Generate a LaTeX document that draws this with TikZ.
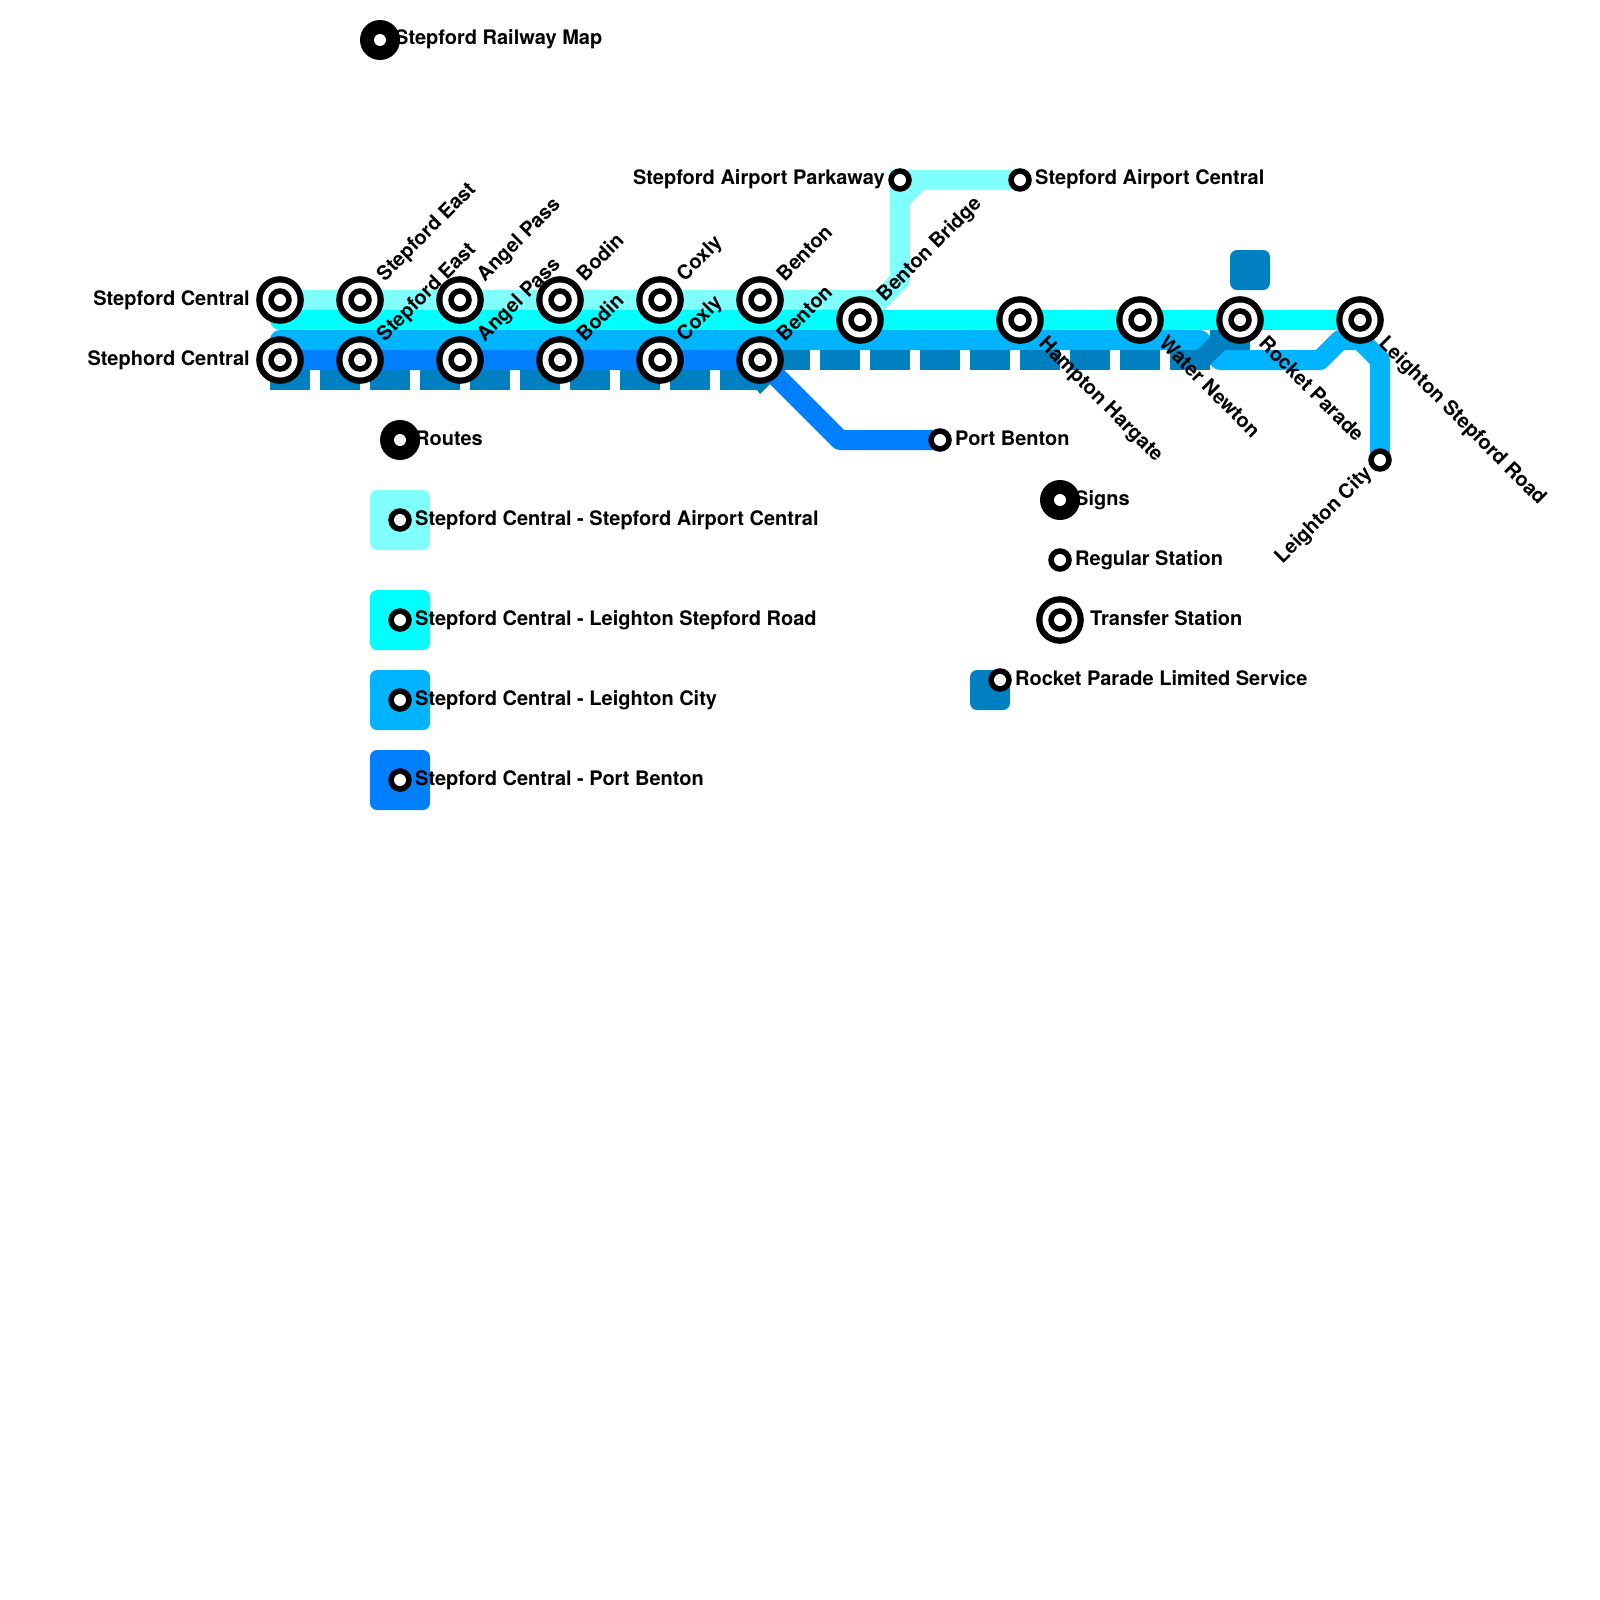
\documentclass[tikz,border=0pt]{standalone}
\usepackage{fontspec}
\setmainfont{TeX Gyre Heros}
\definecolor{lAirport}{HTML}{80FFFF}
\definecolor{lCyan}{HTML}{00FFFF}
\definecolor{lSky}{HTML}{00B4FF}
\definecolor{lBlue}{HTML}{0080FF}
\definecolor{lDark}{HTML}{0080C0}
\tikzset{
  route/.style={line width=20pt,line cap=round,line join=round},
  legendbox/.style={rounded corners=7pt},
  lab/.style={font=\fontsize{20}{24}\selectfont\bfseries,inner sep=0pt,text=black},
}
\newcommand{\transfer}[2]{%
  \fill[black] (#2) circle (23.8);
  \fill[white] (#2) circle (17.5);
  \fill[black] (#2) circle (11.8);
  \fill[white] (#2) circle (6);
  \coordinate (#1) at (#2);}
\newcommand{\regular}[2]{%
  \fill[black] (#2) circle (11.8);
  \fill[white] (#2) circle (6);
  \coordinate (#1) at (#2);}
\newcommand{\bigsign}[2]{%
  \fill[black] (#2) circle (20);
  \fill[white] (#2) circle (6);
  \coordinate (#1) at (#2);}
\newcommand{\lup}[3]{\node[lab,anchor=base west,rotate=45] (t#1) at ([shift={(24.75,-17.68)}]#2) {#3};}
\newcommand{\ldown}[3]{\node[lab,anchor=base west,rotate=-45] (t#1) at ([shift={(17.68,24.75)}]#2) {#3};}
\newcommand{\lright}[4]{\node[lab,anchor=base west] (t#1) at ([shift={(#4,5)}]#2) {#3};}
\newcommand{\lleft}[4]{\node[lab,anchor=base east] (t#1) at ([shift={(-#4,5)}]#2) {#3};}
\begin{document}
\begin{tikzpicture}[x=1pt,y=-1pt]
\useasboundingbox (0,0) rectangle (1600,1600);
% routes
\draw[route,lAirport] (280,300) -- (880,300) -- (900,280) -- (900,200) -- (920,180) -- (1020,180);
\fill[lAirport] (890,170) -- (925,170) -- (925,190) -- (922,190) -- (910,202) -- (910,205) -- (890,205) -- cycle;
\draw[route,lCyan] (280,320) -- (1360,320);
\draw[route,lSky] (280,340) -- (1200,340) -- (1220,360) -- (1320,360) -- (1340,340) -- (1360,340) -- (1380,360) -- (1380,460);
% limited service
\foreach \i in {0,...,9}{
  \fill[lDark] ({270+50*\i},370) rectangle ({310+50*\i},390);
}
\fill[lDark] (750,390) -- (757,390) -- (760,394) -- (775,379) -- (760,375) -- cycle;
\foreach \i in {0,...,8}{
  \fill[lDark] ({770+50*\i},350) rectangle ({810+50*\i},370);
}
\fill[lDark] (1210,330) -- (1250,330) -- (1250,350) -- (1225,350) -- (1205,370) -- (1197,350) -- (1210,337) -- cycle;
\fill[lDark,legendbox] (1230,250) rectangle (1270,290);
\draw[route,lBlue] (280,360) -- (760,360) -- (840,440) -- (940,440);
% legend boxes
\fill[lAirport,legendbox] (370,490) rectangle (430,550);
\fill[lCyan,legendbox] (370,590) rectangle (430,650);
\fill[lSky,legendbox] (370,670) rectangle (430,730);
\fill[lBlue,legendbox] (370,750) rectangle (430,810);
\fill[lDark,legendbox] (970,670) rectangle (1010,710);
% stations
\transfer{sc}{280,300}\transfer{shc}{280,360}
\transfer{se}{360,300}\transfer{se2}{360,360}
\transfer{ap}{460,300}\transfer{ap2}{460,360}
\transfer{bo}{560,300}\transfer{bo2}{560,360}
\transfer{co}{660,300}\transfer{co2}{660,360}
\transfer{be}{760,300}\transfer{be2}{760,360}
\transfer{bb}{860,320}\transfer{hh}{1020,320}
\transfer{wn}{1140,320}\transfer{rp}{1240,320}
\transfer{ls}{1360,320}
\regular{pk}{900,180}\regular{ac}{1020,180}
\regular{pb}{940,440}\regular{lc}{1380,460}
\bigsign{title}{380,40}\bigsign{routes}{400,440}\bigsign{signs}{1060,500}
\regular{k1}{400,520}\regular{k2}{400,620}\regular{k3}{400,700}\regular{k4}{400,780}
\regular{kr}{1060,560}\transfer{kt}{1060,620}\regular{kl}{1000,680}
% labels
\lleft{sc}{sc}{Stepford Central}{30}
\lleft{shc}{shc}{Stephord Central}{30}
\lup{se}{se}{Stepford East}\lup{seb}{se2}{Stepford East}
\lup{ap}{ap}{Angel Pass}\lup{apb}{ap2}{Angel Pass}
\lup{bo}{bo}{Bodin}\lup{bob}{bo2}{Bodin}
\lup{co}{co}{Coxly}\lup{cob}{co2}{Coxly}
\lup{be}{be}{Benton}\lup{beb}{be2}{Benton}
\lup{bb}{bb}{Benton Bridge}
\ldown{hh}{hh}{Hampton Hargate}
\ldown{wn}{wn}{Water Newton}
\ldown{rp}{rp}{Rocket Parade}
\ldown{ls}{ls}{Leighton Stepford Road}
\node[lab,anchor=base east] (tpk) at ([shift={(-15,4)}]pk) {Stepford Airport Parkaway};
\node[lab,anchor=base west] (tac) at ([shift={(15,4)}]ac) {Stepford Airport Central};
\lright{pb}{pb}{Port Benton}{15}
\node[lab,anchor=base east,rotate=45] (tlc) at ([shift={(-7.07,14.14)}]lc) {Leighton City};
\lright{title}{title}{Stepford Railway Map}{15}
\lright{routes}{routes}{Routes}{15}
\lright{signs}{signs}{Signs}{15}
\lright{k1}{k1}{Stepford Central - Stepford Airport Central}{15}
\lright{k2}{k2}{Stepford Central - Leighton Stepford Road}{15}
\lright{k3}{k3}{Stepford Central - Leighton City}{15}
\lright{k4}{k4}{Stepford Central - Port Benton}{15}
\lright{kr}{kr}{Regular Station}{15}
\lright{kt}{kt}{Transfer Station}{30}
\lright{kl}{kl}{Rocket Parade Limited Service}{15}
\end{tikzpicture}
\end{document}
